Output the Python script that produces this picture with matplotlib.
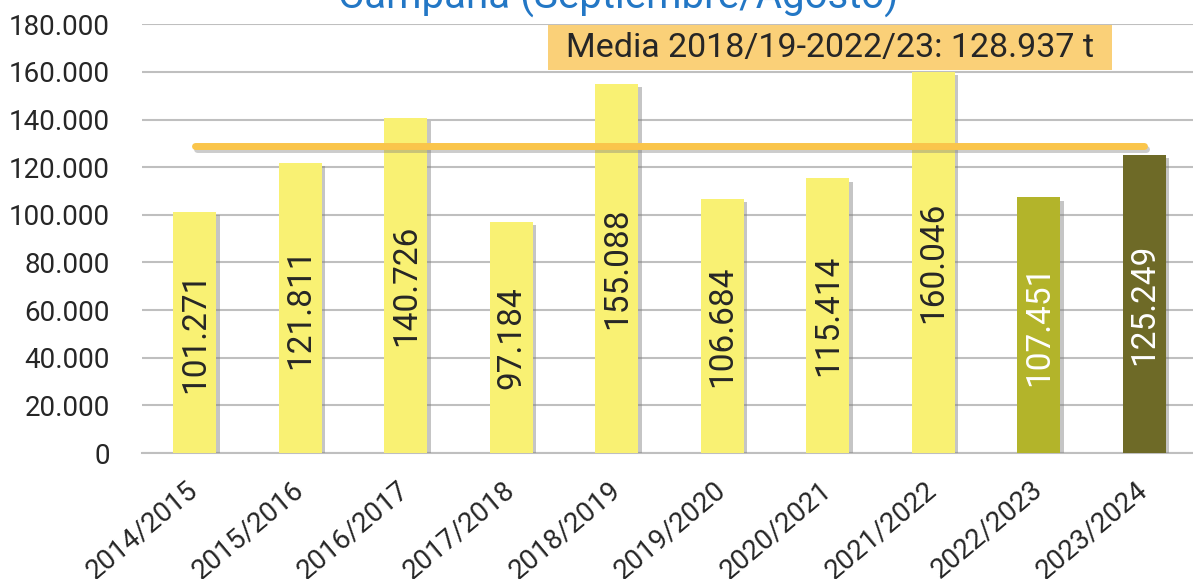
import matplotlib
matplotlib.use("Agg")
import matplotlib.pyplot as plt
import matplotlib.patheffects as pe
from matplotlib.patches import Rectangle
import numpy as np

plt.rcParams['font.family'] = ['Roboto', 'DejaVu Sans']

campaigns = ["2014/2015", "2015/2016", "2016/2017", "2017/2018", "2018/2019",
             "2019/2020", "2020/2021", "2021/2022", "2022/2023", "2023/2024"]
values = [101271, 121811, 140726, 97184, 155088, 106684, 115414, 160046, 107451, 125249]
bar_colors = ["#F9F173"] * 8 + ["#B3B42A", "#6E6A27"]
label_colors = ["#262626"] * 8 + ["white", "white"]
mean_value = 128937
mean_label = "Media 2018/19-2022/23: 128.937 t"
title = "Campaña (Septiembre/Agosto)"
yticks = [0, 20000, 40000, 60000, 80000, 100000, 120000, 140000, 160000, 180000]


def fmt(v):
    return f"{v:,}".replace(",", ".")


W, H = 1193, 579
fig = plt.figure(figsize=(W / 100, H / 100), dpi=100)
left, right, top, bottom = 142, 1197, 24.3, 453
ax = fig.add_axes([left / W, 1 - bottom / H, (right - left) / W, (bottom - top) / H])

x = np.arange(len(campaigns))
bars = ax.bar(x, values, width=0.41, color=bar_colors, zorder=3)
for b in bars:
    b.set_path_effects([pe.SimplePatchShadow(offset=(2.5, -2.5), shadow_rgbFace="#808080", alpha=0.45),
                        pe.Normal()])

for xi, v, c in zip(x, values, label_colors):
    ax.text(xi, v / 2, fmt(v), rotation=90, ha="center", va="center",
            fontsize=24, color=c, zorder=5)

ax.plot([x[0], x[-1]], [mean_value, mean_value], color="#FAC54B", lw=5,
        solid_capstyle="round", zorder=4,
        path_effects=[pe.SimpleLineShadow(offset=(1.5, -2.5), shadow_color="#808080", alpha=0.4),
                      pe.Normal()])

ax.set_xlim(-0.5, 9.5)
ax.set_ylim(0, 180000)
ax.set_yticks(yticks)
ax.set_yticklabels([fmt(v) for v in yticks])
ax.yaxis.grid(True, color="#BFBFBF", lw=1.5, zorder=0)
ax.set_axisbelow(True)
for s in ["top", "right", "left"]:
    ax.spines[s].set_visible(False)
ax.spines["bottom"].set_color("#BFBFBF")
ax.spines["bottom"].set_linewidth(1.5)
ax.tick_params(axis="y", length=0, pad=23, labelsize=20, labelcolor="#262626")
ax.tick_params(axis="x", length=0, pad=24, labelsize=20, labelcolor="#262626")
ax.set_xticks(x)
ax.set_xticklabels(campaigns, rotation=40, ha="right", va="center", rotation_mode="anchor")

# mean annotation box
fig.patches.append(Rectangle((548 / W, 1 - 70 / H), (1112 - 548) / W, 45 / H,
                             transform=fig.transFigure, fc="#FAD078", ec="none", zorder=5))
fig.text(830 / W, 1 - 48 / H, mean_label, ha="center", va="center", fontsize=24.5,
         color="#262626", zorder=6)

fig.text(618 / W, 1 - 9 / H, title, ha="center", va="baseline", fontsize=29,
         color="#2377C5")

fig.savefig("out.png", dpi=100)
